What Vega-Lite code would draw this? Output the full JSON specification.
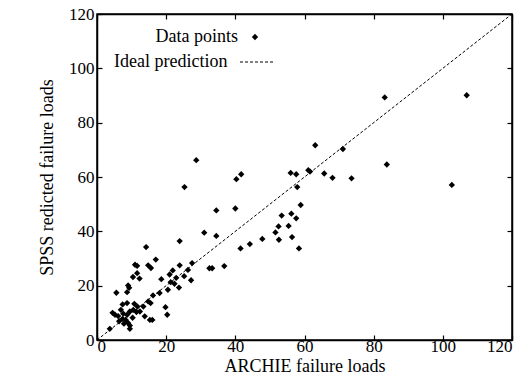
{
  "$schema": "https://vega.github.io/schema/vega-lite/v6.json",
  "width": 415,
  "height": 326,
  "autosize": {"type": "none"},
  "padding": {"left": 97, "top": 14, "right": 17, "bottom": 50},
  "background": "white",
  "config": {
    "font": "Liberation Serif",
    "view": {"stroke": "black", "strokeWidth": 1.5},
    "axis": {
      "grid": false,
      "domainColor": "black",
      "domainWidth": 1.5,
      "tickColor": "black",
      "tickWidth": 1.2,
      "tickSize": -5,
      "labelColor": "black",
      "labelFont": "Liberation Serif",
      "labelFontSize": 17,
      "titleColor": "black",
      "titleFont": "Liberation Serif",
      "titleFontSize": 18,
      "titleFontWeight": "normal"
    },
    "legend": {
      "labelFont": "Liberation Serif",
      "labelFontSize": 18,
      "labelColor": "black",
      "labelAlign": "right",
      "title": null,
      "orient": "none"
    }
  },
  "resolve": {"axis": {"x": "independent", "y": "independent"}},
  "layer": [
    {
      "data": {"values": [
        {"archie": 0, "spss": 0},
        {"archie": 120, "spss": 120}
      ]},
      "mark": {"type": "line", "color": "black", "strokeWidth": 1},
      "encoding": {
        "x": {"field": "archie", "type": "quantitative", "scale": {"domain": [0, 120], "nice": false},
              "axis": {"orient": "bottom", "values": [0, 20, 40, 60, 80, 100, 120], "title": "ARCHIE failure loads", "labelPadding": 3, "titlePadding": 3}},
        "y": {"field": "spss", "type": "quantitative", "scale": {"domain": [0, 120], "nice": false},
              "axis": {"orient": "left", "values": [0, 20, 40, 60, 80, 100, 120], "title": "SPSS redicted failure loads", "labelPadding": 8, "titlePadding": 12}},
        "strokeDash": {"datum": "Ideal prediction", "type": "nominal",
                       "scale": {"domain": ["Ideal prediction"], "range": [[3, 2]]},
                       "legend": {"legendX": 142.5, "legendY": 31, "labelOffset": -46, "symbolSize": 1089,
                                  "symbolStrokeColor": "black", "symbolStrokeWidth": 1, "title": null}}
      }
    },
    {
      "data": {"values": [
        {"archie": 83.2, "spss": 89.3}, {"archie": 106.9, "spss": 90.1}, {"archie": 63.1, "spss": 71.7}, {"archie": 71.1, "spss": 70.3},
        {"archie": 56.0, "spss": 61.5}, {"archie": 57.6, "spss": 61.0}, {"archie": 61.1, "spss": 62.5}, {"archie": 61.6, "spss": 62.0},
        {"archie": 65.7, "spss": 61.3}, {"archie": 68.1, "spss": 59.7}, {"archie": 73.6, "spss": 59.5}, {"archie": 83.8, "spss": 64.6},
        {"archie": 102.6, "spss": 57.1}, {"archie": 57.9, "spss": 56.3}, {"archie": 58.9, "spss": 49.7}, {"archie": 53.4, "spss": 45.8},
        {"archie": 56.2, "spss": 46.5}, {"archie": 57.6, "spss": 44.8}, {"archie": 55.4, "spss": 42.0}, {"archie": 52.5, "spss": 41.8},
        {"archie": 56.4, "spss": 37.9}, {"archie": 58.4, "spss": 33.7}, {"archie": 52.6, "spss": 36.9}, {"archie": 51.6, "spss": 39.6},
        {"archie": 28.7, "spss": 66.2}, {"archie": 40.3, "spss": 59.2}, {"archie": 41.7, "spss": 61.0}, {"archie": 34.5, "spss": 47.7},
        {"archie": 40.0, "spss": 48.4}, {"archie": 47.8, "spss": 37.2}, {"archie": 44.2, "spss": 35.3}, {"archie": 41.5, "spss": 33.7},
        {"archie": 31.0, "spss": 39.5}, {"archie": 34.5, "spss": 38.3}, {"archie": 27.5, "spss": 28.3}, {"archie": 32.5, "spss": 26.4},
        {"archie": 33.3, "spss": 26.4}, {"archie": 36.8, "spss": 27.2}, {"archie": 25.3, "spss": 56.3}, {"archie": 23.9, "spss": 36.4},
        {"archie": 17.0, "spss": 29.6}, {"archie": 15.6, "spss": 26.5}, {"archie": 14.8, "spss": 27.5}, {"archie": 23.9, "spss": 27.5},
        {"archie": 21.9, "spss": 25.6}, {"archie": 21.0, "spss": 24.1}, {"archie": 26.3, "spss": 25.8}, {"archie": 25.2, "spss": 23.5},
        {"archie": 18.6, "spss": 22.4}, {"archie": 22.9, "spss": 22.9}, {"archie": 27.2, "spss": 22.0}, {"archie": 14.2, "spss": 34.2},
        {"archie": 11.0, "spss": 27.7}, {"archie": 11.6, "spss": 27.3}, {"archie": 11.6, "spss": 24.6}, {"archie": 12.3, "spss": 22.6},
        {"archie": 10.4, "spss": 23.2}, {"archie": 9.0, "spss": 20.1}, {"archie": 9.3, "spss": 19.2}, {"archie": 8.7, "spss": 17.6},
        {"archie": 5.6, "spss": 17.4}, {"archie": 21.3, "spss": 21.3}, {"archie": 22.4, "spss": 20.7}, {"archie": 20.5, "spss": 18.5},
        {"archie": 23.7, "spss": 19.3}, {"archie": 18.1, "spss": 17.3}, {"archie": 7.4, "spss": 13.1}, {"archie": 8.7, "spss": 13.6},
        {"archie": 6.9, "spss": 11.1}, {"archie": 4.5, "spss": 10.0}, {"archie": 5.2, "spss": 9.3}, {"archie": 6.1, "spss": 8.8},
        {"archie": 7.6, "spss": 9.7}, {"archie": 8.7, "spss": 9.3}, {"archie": 9.5, "spss": 10.5}, {"archie": 10.5, "spss": 11.1},
        {"archie": 11.4, "spss": 10.3}, {"archie": 12.4, "spss": 10.5}, {"archie": 11.7, "spss": 12.3}, {"archie": 10.8, "spss": 13.3},
        {"archie": 13.8, "spss": 8.7}, {"archie": 10.3, "spss": 8.2}, {"archie": 8.3, "spss": 7.4}, {"archie": 7.4, "spss": 7.8},
        {"archie": 9.0, "spss": 6.3}, {"archie": 9.5, "spss": 5.3}, {"archie": 9.5, "spss": 4.1}, {"archie": 7.8, "spss": 6.0},
        {"archie": 6.4, "spss": 6.9}, {"archie": 3.7, "spss": 4.1}, {"archie": 14.8, "spss": 14.2}, {"archie": 15.5, "spss": 13.6},
        {"archie": 15.3, "spss": 7.4}, {"archie": 16.0, "spss": 7.4}, {"archie": 13.4, "spss": 12.3}, {"archie": 16.2, "spss": 16.4},
        {"archie": 19.8, "spss": 12.1}, {"archie": 20.3, "spss": 9.3}
      ]},
      "mark": {"type": "point", "filled": true, "color": "black", "opacity": 1, "size": 40},
      "encoding": {
        "x": {"field": "archie", "type": "quantitative", "scale": {"domain": [0, 120], "nice": false},
              "axis": {"orient": "top", "values": [0, 20, 40, 60, 80, 100, 120], "labels": false, "title": null}},
        "y": {"field": "spss", "type": "quantitative", "scale": {"domain": [0, 120], "nice": false},
              "axis": {"orient": "right", "values": [0, 20, 40, 60, 80, 100, 120], "labels": false, "title": null}},
        "shape": {"datum": "Data points", "type": "nominal",
                  "scale": {"domain": ["Data points"], "range": ["diamond"]},
                  "legend": {"legendX": 149, "legendY": 14, "labelOffset": -26, "symbolSize": 40,
                             "symbolFillColor": "black", "symbolStrokeColor": "black", "title": null}}
      }
    }
  ]
}
